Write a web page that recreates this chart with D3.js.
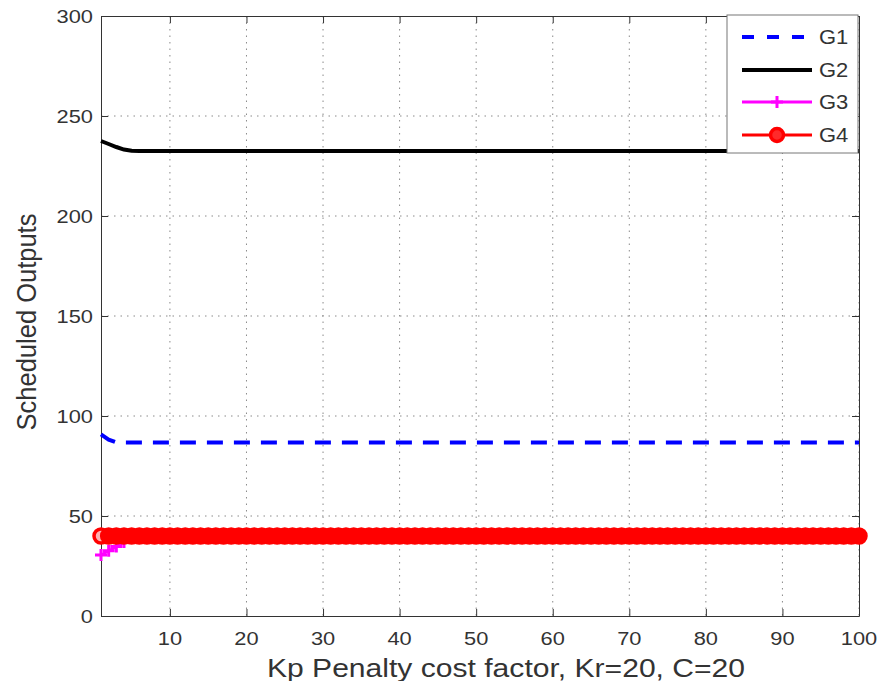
<!DOCTYPE html>
<html>
<head>
<meta charset="utf-8">
<script src="https://cdn.jsdelivr.net/npm/d3@7"></script>
<style>
  html, body { margin: 0; padding: 0; background: #fff; }
  svg { display: block; }
  text { font-family: "Liberation Sans", Arial, sans-serif; fill: #333; }
</style>
</head>
<body>
<svg id="chart" width="885" height="681"></svg>
<script>
// ---- data ----
const xTicks = [10, 20, 30, 40, 50, 60, 70, 80, 90, 100];
const yTicks = [0, 50, 100, 150, 200, 250, 300];
const seriesNames = ["G1", "G2", "G3", "G4"];
const xLabel = "Kp Penalty cost factor, Kr=20, C=20";
const yLabel = "Scheduled Outputs";

const g1 = [
  90.8, 88.2, 86.8, 86.7, 86.7, 86.7, 86.7, 86.7, 86.7, 86.7,
  86.7, 86.7, 86.7, 86.7, 86.7, 86.7, 86.7, 86.7, 86.7, 86.7,
  86.7, 86.7, 86.7, 86.7, 86.7, 86.7, 86.7, 86.7, 86.7, 86.7,
  86.7, 86.7, 86.7, 86.7, 86.7, 86.7, 86.7, 86.7, 86.7, 86.7,
  86.7, 86.7, 86.7, 86.7, 86.7, 86.7, 86.7, 86.7, 86.7, 86.7,
  86.7, 86.7, 86.7, 86.7, 86.7, 86.7, 86.7, 86.7, 86.7, 86.7,
  86.7, 86.7, 86.7, 86.7, 86.7, 86.7, 86.7, 86.7, 86.7, 86.7,
  86.7, 86.7, 86.7, 86.7, 86.7, 86.7, 86.7, 86.7, 86.7, 86.7,
  86.7, 86.7, 86.7, 86.7, 86.7, 86.7, 86.7, 86.7, 86.7, 86.7,
  86.7, 86.7, 86.7, 86.7, 86.7, 86.7, 86.7, 86.7, 86.7, 86.7
];
const g2 = [
  237.5, 236.0, 234.5, 233.2, 232.6, 232.5, 232.5, 232.5, 232.5, 232.5,
  232.5, 232.5, 232.5, 232.5, 232.5, 232.5, 232.5, 232.5, 232.5, 232.5,
  232.5, 232.5, 232.5, 232.5, 232.5, 232.5, 232.5, 232.5, 232.5, 232.5,
  232.5, 232.5, 232.5, 232.5, 232.5, 232.5, 232.5, 232.5, 232.5, 232.5,
  232.5, 232.5, 232.5, 232.5, 232.5, 232.5, 232.5, 232.5, 232.5, 232.5,
  232.5, 232.5, 232.5, 232.5, 232.5, 232.5, 232.5, 232.5, 232.5, 232.5,
  232.5, 232.5, 232.5, 232.5, 232.5, 232.5, 232.5, 232.5, 232.5, 232.5,
  232.5, 232.5, 232.5, 232.5, 232.5, 232.5, 232.5, 232.5, 232.5, 232.5,
  232.5, 232.5, 232.5, 232.5, 232.5, 232.5, 232.5, 232.5, 232.5, 232.5,
  232.5, 232.5, 232.5, 232.5, 232.5, 232.5, 232.5, 232.5, 232.5, 232.5
];
const g3 = [
  30.5, 32.6, 34.7, 37.0, 39.0, 40, 40, 40, 40, 40,
  40, 40, 40, 40, 40, 40, 40, 40, 40, 40,
  40, 40, 40, 40, 40, 40, 40, 40, 40, 40,
  40, 40, 40, 40, 40, 40, 40, 40, 40, 40,
  40, 40, 40, 40, 40, 40, 40, 40, 40, 40,
  40, 40, 40, 40, 40, 40, 40, 40, 40, 40,
  40, 40, 40, 40, 40, 40, 40, 40, 40, 40,
  40, 40, 40, 40, 40, 40, 40, 40, 40, 40,
  40, 40, 40, 40, 40, 40, 40, 40, 40, 40,
  40, 40, 40, 40, 40, 40, 40, 40, 40, 40
];
const g4 = [
  40, 40, 40, 40, 40, 40, 40, 40, 40, 40,
  40, 40, 40, 40, 40, 40, 40, 40, 40, 40,
  40, 40, 40, 40, 40, 40, 40, 40, 40, 40,
  40, 40, 40, 40, 40, 40, 40, 40, 40, 40,
  40, 40, 40, 40, 40, 40, 40, 40, 40, 40,
  40, 40, 40, 40, 40, 40, 40, 40, 40, 40,
  40, 40, 40, 40, 40, 40, 40, 40, 40, 40,
  40, 40, 40, 40, 40, 40, 40, 40, 40, 40,
  40, 40, 40, 40, 40, 40, 40, 40, 40, 40,
  40, 40, 40, 40, 40, 40, 40, 40, 40, 40
];
const kp = g1.map((_, i) => i + 1); // x positions 1..100

// ---- layout ----
const L = 101, R = 859, T = 16, B = 616;
const svg = d3.select("#chart");
const x = d3.scaleLinear().domain([1, 100]).range([L, R]);
const y = d3.scaleLinear().domain([0, 300]).range([B, T]);

const SX = 1.18; // horizontal stretch of text in the reference

// grid
const grid = svg.append("g").attr("stroke", "#8a8a8a").attr("stroke-width", 1)
  .attr("stroke-dasharray", "1.5,5").attr("fill", "none");
xTicks.forEach(t => grid.append("line").attr("x1", x(t)).attr("x2", x(t)).attr("y1", T).attr("y2", B));
yTicks.filter(t => t > 0 && t < 300).forEach(t => grid.append("line").attr("x1", L).attr("x2", R).attr("y1", y(t)).attr("y2", y(t)));

// axes via d3 axis (inward ticks)
const tickLen = 7;
const axB = d3.axisBottom(x).tickValues(xTicks).tickSizeInner(-tickLen).tickSizeOuter(0).tickFormat("");
const axT = d3.axisTop(x).tickValues(xTicks).tickSizeInner(-tickLen).tickSizeOuter(0).tickFormat("");
const axL = d3.axisLeft(y).tickValues(yTicks).tickSizeInner(-tickLen).tickSizeOuter(0).tickFormat("");
const axR = d3.axisRight(y).tickValues(yTicks).tickSizeInner(-tickLen).tickSizeOuter(0).tickFormat("");
[[axB, `translate(0,${B})`], [axT, `translate(0,${T})`], [axL, `translate(${L},0)`], [axR, `translate(${R},0)`]]
  .forEach(([a, tr]) => {
    const g = svg.append("g").attr("transform", tr).call(a);
    g.selectAll("path,line").attr("stroke", "#333");
  });

// tick labels (stretched)
function stext(px, py, str, size, anchor, sx) {
  const g = svg.append("g").attr("transform", `translate(${px},${py}) scale(${sx},1)`);
  return g.append("text").attr("x", 0).attr("y", 0).attr("text-anchor", anchor)
    .attr("font-size", size).text(str);
}
xTicks.forEach(t => stext(x(t), 645, String(t), 18.5, "middle", SX));
yTicks.forEach(t => stext(93, y(t) + 6.5, String(t), 18.5, "end", SX));

// axis labels
stext(506, 677, xLabel, 25.5, "middle", SX);
svg.append("g").attr("transform", `translate(36,322) scale(1.12,1) rotate(-90)`)
  .append("text").attr("text-anchor", "middle").attr("font-size", 25.5).text(yLabel);

// series
const line = d3.line().x((d, i) => x(kp[i])).y(d => y(d));
svg.append("path").datum(g1).attr("d", line).attr("fill", "none")
  .attr("stroke", "#0000ff").attr("stroke-width", 4).attr("stroke-dasharray", "16,11");
svg.append("path").datum(g2).attr("d", line).attr("fill", "none")
  .attr("stroke", "#000").attr("stroke-width", 4);
svg.append("path").datum(g3).attr("d", line).attr("fill", "none")
  .attr("stroke", "#ff00ff").attr("stroke-width", 3);
const plusSize = 6;
svg.append("g").selectAll("path").data(g3).join("path")
  .attr("d", (d, i) => `M${x(kp[i]) - plusSize},${y(d)}h${2 * plusSize}M${x(kp[i])},${y(d) - plusSize}v${2 * plusSize}`)
  .attr("stroke", "#ff00ff").attr("stroke-width", 3);
svg.append("path").datum(g4).attr("d", line).attr("fill", "none")
  .attr("stroke", "#ff0000").attr("stroke-width", 3);
svg.append("g").selectAll("circle").data(g4).join("circle")
  .attr("cx", (d, i) => x(kp[i])).attr("cy", d => y(d)).attr("r", 7)
  .attr("fill", (d, i) => i === 0 ? "#ffb0b0" : "#ff0000").attr("stroke", "#ff0000").attr("stroke-width", 3.5);

// legend
const lg = svg.append("g");
lg.append("rect").attr("x", 727).attr("y", 15).attr("width", 131).attr("height", 138)
  .attr("fill", "#fff").attr("stroke", "#777").attr("stroke-width", 1);
const rowY = [37, 70, 102, 135];
const lx1 = 742, lx2 = 812, lxm = 777;
seriesNames.forEach((name, i) => {
  const yy = rowY[i];
  const ln = lg.append("line").attr("x1", lx1).attr("x2", lx2).attr("y1", yy).attr("y2", yy);
  if (i === 0) ln.attr("stroke", "#0000ff").attr("stroke-width", 4).attr("stroke-dasharray", "12,13");
  if (i === 1) ln.attr("stroke", "#000").attr("stroke-width", 4);
  if (i === 2) {
    ln.attr("stroke", "#ff00ff").attr("stroke-width", 3);
    lg.append("path").attr("d", `M${lxm - plusSize},${yy}h${2 * plusSize}M${lxm},${yy - plusSize}v${2 * plusSize}`)
      .attr("stroke", "#ff00ff").attr("stroke-width", 3);
  }
  if (i === 3) {
    ln.attr("stroke", "#ff0000").attr("stroke-width", 3);
    lg.append("circle").attr("cx", lxm).attr("cy", yy).attr("r", 6.5)
      .attr("fill", "#ff2a2a").attr("stroke", "#ff0000").attr("stroke-width", 3.5);
  }
  const tg = lg.append("g").attr("transform", `translate(819,${yy + 7}) scale(1.1,1)`);
  tg.append("text").attr("font-size", 20).text(name);
});
</script>
</body>
</html>
